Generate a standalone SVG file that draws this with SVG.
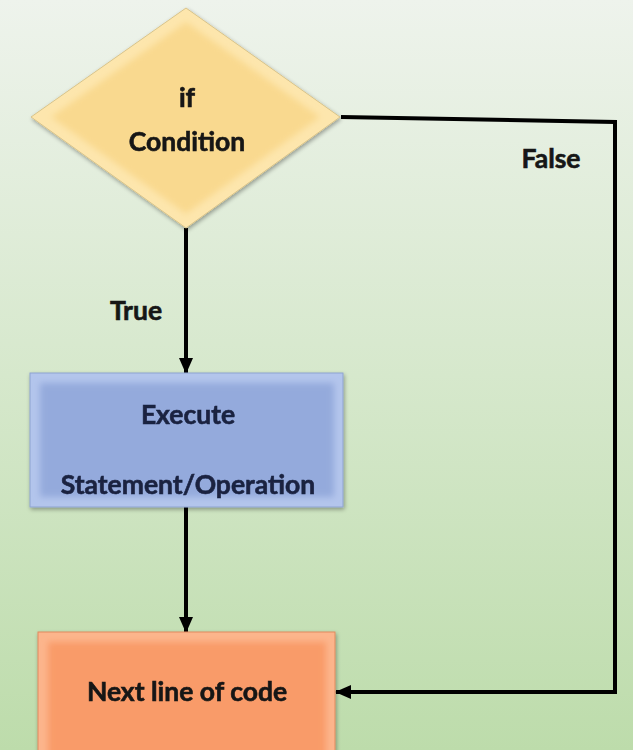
<svg xmlns="http://www.w3.org/2000/svg" width="633" height="750" viewBox="0 0 633 750">
  <defs>
    <linearGradient id="bg" x1="0" y1="0" x2="0" y2="1">
      <stop offset="0" stop-color="#eef3ec"/>
      <stop offset="0.5" stop-color="#d6e8cc"/>
      <stop offset="1" stop-color="#bddcab"/>
    </linearGradient>
    <filter id="soft" x="-5%" y="-5%" width="110%" height="110%">
      <feGaussianBlur stdDeviation="3"/>
    </filter>
    <filter id="shadow" x="-10%" y="-10%" width="120%" height="120%">
      <feGaussianBlur in="SourceAlpha" stdDeviation="2"/>
      <feOffset dx="1" dy="2" result="s"/>
      <feComponentTransfer><feFuncA type="linear" slope="0.35"/></feComponentTransfer>
      <feMerge><feMergeNode/><feMergeNode in="SourceGraphic"/></feMerge>
    </filter>
    <marker id="arrow" markerUnits="userSpaceOnUse" markerWidth="16" markerHeight="14" viewBox="0 0 16 14" refX="15" refY="7" orient="auto">
      <path d="M0,0 L16,7 L0,14 Z" fill="#000"/>
    </marker>
  </defs>
  <style>
    .label { font-family: "Lato", "Open Sans", "Liberation Sans", sans-serif; font-weight: bold; font-size: 26.5px; text-anchor: middle; stroke-width: 0.6px; }
    .dark { fill: #161616; stroke: #161616; }
    .navy { fill: #1a2240; stroke: #1a2240; }
    .edge { fill: none; stroke: #000; stroke-width: 4; }
  </style>

  <rect width="633" height="750" fill="url(#bg)"/>

  <!-- connectors -->
  <g id="connectors">
    <line class="edge" x1="186" y1="228" x2="186" y2="373" marker-end="url(#arrow)"/>
    <line class="edge" x1="186" y1="507" x2="186" y2="632" marker-end="url(#arrow)"/>
    <polyline class="edge" points="341,117 615,122 615,692 336,692" marker-end="url(#arrow)"/>
    <text class="label dark" x="136" y="320">True</text>
    <text class="label dark" x="551" y="168">False</text>
  </g>

  <!-- decision -->
  <g id="node-condition" filter="url(#shadow)">
    <polygon points="186,8 340,117 186,228 31,117" fill="#fde6ad" stroke="#d9c48a" stroke-width="1"/>
    <polygon points="186,22 320,117 186,214 51,117" fill="#f9d98f" filter="url(#soft)"/>
    <text class="label dark" x="187" y="107">if</text>
    <text class="label dark" x="187" y="151">Condition</text>
  </g>

  <!-- process -->
  <g id="node-execute" filter="url(#shadow)">
    <rect x="30" y="373" width="313" height="134" fill="#b3c5ec" stroke="#8ea3d0" stroke-width="1"/>
    <rect x="40" y="383" width="294" height="114" fill="#94aadc" filter="url(#soft)"/>
    <text class="label navy" x="188" y="424">Execute</text>
    <text class="label navy" x="188" y="494">Statement/Operation</text>
  </g>

  <!-- next step -->
  <g id="node-next" filter="url(#shadow)">
    <rect x="38" y="632" width="297" height="130" fill="#fcb58c" stroke="#e08a5c" stroke-width="1"/>
    <rect x="48" y="642" width="278" height="120" fill="#f99b69" filter="url(#soft)"/>
    <text class="label dark" x="187" y="701">Next line of code</text>
  </g>
</svg>
